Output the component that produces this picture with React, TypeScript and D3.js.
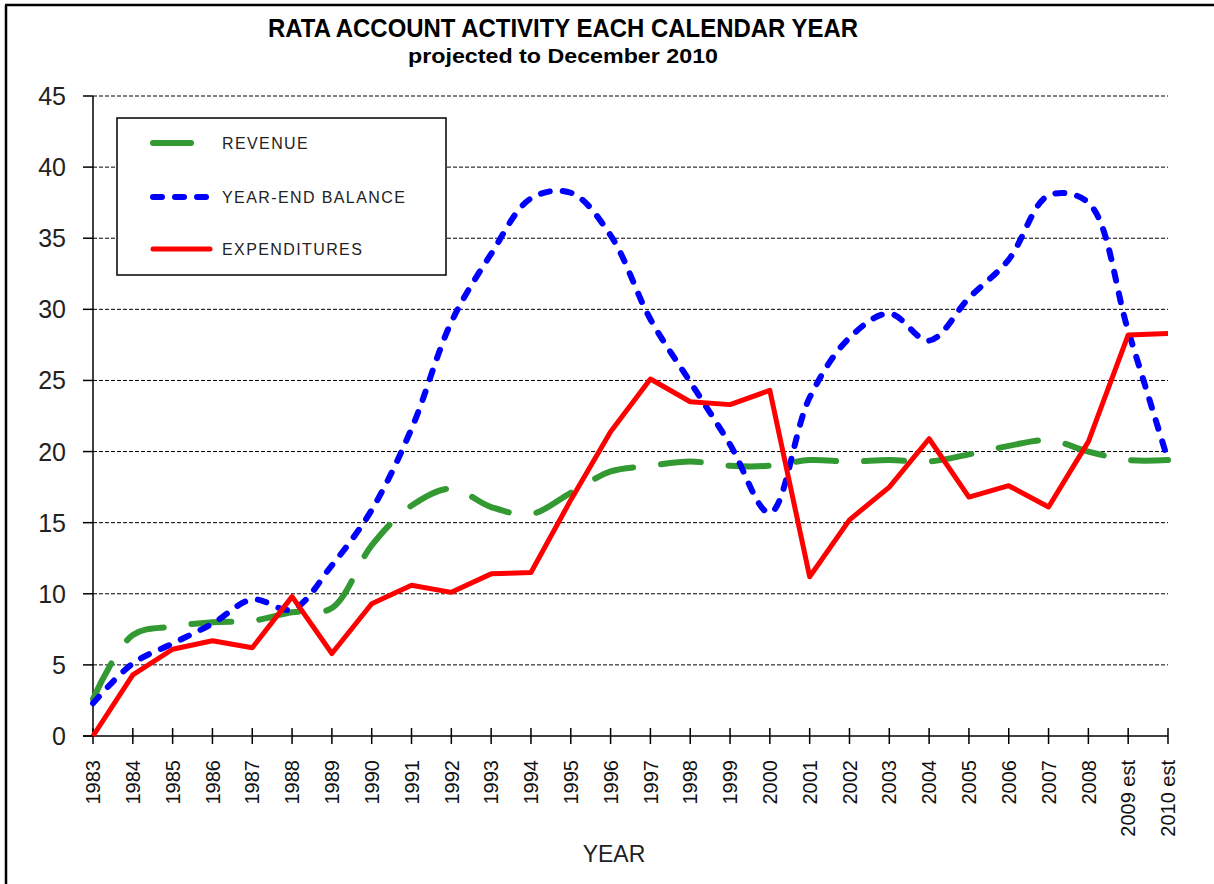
import React from "react";
import * as d3 from "d3";

const years = ["1983","1984","1985","1986","1987","1988","1989","1990","1991","1992","1993","1994","1995","1996","1997","1998","1999","2000","2001","2002","2003","2004","2005","2006","2007","2008","2009 est","2010 est"];
const revenue = [2.6,7.1,7.7,8.0,8.1,8.7,9.0,13.4,16.2,17.4,16.1,15.6,17.1,18.6,19.0,19.3,19.0,19.0,19.4,19.3,19.4,19.3,19.8,20.4,20.8,20.0,19.4,19.4];
const balance = [2.3,5.1,6.5,7.9,9.6,8.9,12.0,15.9,21.6,29.1,33.9,37.8,38.2,35.2,29.3,24.9,20.5,15.7,23.8,28.0,29.7,27.8,30.8,33.5,38.0,37.5,28.5,19.4];
const expenditures = [0,4.3,6.1,6.7,6.2,9.8,5.8,9.3,10.6,10.1,11.4,11.5,16.6,21.4,25.1,23.5,23.3,24.3,11.2,15.2,17.5,20.9,16.8,17.6,16.1,20.7,28.2,28.3];
const yTicks = [0,5,10,15,20,25,30,35,40,45];

const FONT = "'Liberation Sans', Arial, sans-serif";

export default function App() {
  const x = d3.scalePoint<string>().domain(years).range([93, 1168]);
  const y = d3.scaleLinear().domain([0, 45]).range([736, 96]);
  const smooth = d3.line<number>().x((_, i) => x(years[i])!).y(d => y(d)).curve(d3.curveCatmullRom.alpha(0.5));
  const straight = d3.line<number>().x((_, i) => x(years[i])!).y(d => y(d));

  const legend = [
    { label: "REVENUE", color: "#339933", dash: "38 30", w: 6, cy: 143 },
    { label: "YEAR-END BALANCE", color: "#0000ff", dash: "9 13", w: 6, cy: 197 },
    { label: "EXPENDITURES", color: "#ff0000", dash: "", w: 5, cy: 249 },
  ];

  return (
    <svg width={1214} height={884} style={{ position: "absolute", left: 0, top: 0, background: "#fff" }} fontFamily={FONT}>
      <rect x={0} y={0} width={1214} height={884} fill="#fff" />
      <line x1={5} y1={5} x2={1214} y2={5} stroke="#000" strokeWidth={2.5} />
      <line x1={6} y1={5} x2={6} y2={884} stroke="#000" strokeWidth={2.5} />

      <text x={563} y={37} textAnchor="middle" fontSize={25} fontWeight="bold" textLength={590} lengthAdjust="spacingAndGlyphs">RATA ACCOUNT  ACTIVITY EACH CALENDAR  YEAR</text>
      <text x={563} y={63} textAnchor="middle" fontSize={20} fontWeight="bold" textLength={310} lengthAdjust="spacingAndGlyphs">projected to December 2010</text>

      {yTicks.filter(t => t > 0).map(t => (
        <line key={"g" + t} x1={93} x2={1168} y1={y(t)} y2={y(t)} stroke="#000" strokeWidth={1} strokeDasharray="4 2" />
      ))}
      {yTicks.map(t => (
        <g key={"yt" + t}>
          <line x1={83} x2={93} y1={y(t)} y2={y(t)} stroke="#000" strokeWidth={1.5} />
          <text x={66} y={y(t)} dy="0.36em" textAnchor="end" fontSize={25} fill="#222">{t}</text>
        </g>
      ))}
      <line x1={93} x2={93} y1={96} y2={736} stroke="#000" strokeWidth={1.5} />
      <line x1={83} x2={1168} y1={736} y2={736} stroke="#000" strokeWidth={1.5} />
      {years.map(yr => (
        <g key={"xt" + yr}>
          <line x1={x(yr)!} x2={x(yr)!} y1={728} y2={744} stroke="#000" strokeWidth={1.5} />
          <text transform={`translate(${x(yr)},760) rotate(-90)`} dy="0.36em" textAnchor="end" fontSize={20} fill="#111">{yr}</text>
        </g>
      ))}
      <text x={614} y={862} textAnchor="middle" fontSize={23} fill="#222">YEAR</text>

      <path d={smooth(revenue)!} fill="none" stroke="#339933" strokeWidth={6} strokeDasharray="40 28" strokeLinecap="round" />
      <path d={smooth(balance)!} fill="none" stroke="#0000ff" strokeWidth={6} strokeDasharray="9 13" strokeLinecap="round" />
      <path d={straight(expenditures)!} fill="none" stroke="#ff0000" strokeWidth={5} strokeLinejoin="round" />

      <rect x={117} y={118} width={329} height={157} fill="#fff" stroke="#000" strokeWidth={1.5} />
      {legend.map(l => (
        <g key={l.label}>
          <line x1={153} x2={210} y1={l.cy} y2={l.cy} stroke={l.color} strokeWidth={l.w} strokeDasharray={l.dash || undefined} strokeLinecap="round" />
          <text x={222} y={l.cy} dy="0.36em" fontSize={16} letterSpacing={1.4} fill="#222">{l.label}</text>
        </g>
      ))}
    </svg>
  );
}
